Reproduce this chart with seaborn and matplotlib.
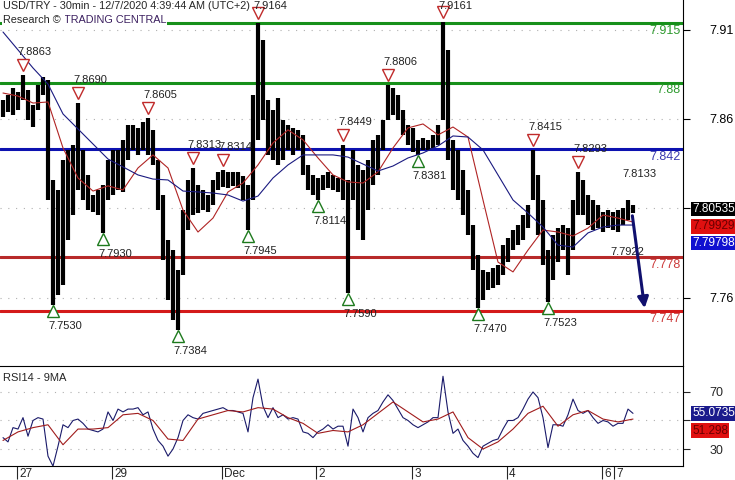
import numpy as np
import seaborn as sns
import matplotlib.pyplot as plt
from matplotlib.transforms import offset_copy

# USD/TRY 30min bars (one value per bar)
bar_high = [
    7.8706, 7.8734, 7.8773, 7.8751, 7.8846, 7.8762, 7.8678, 7.8790, 7.8835, 7.8818,
    7.8259, 7.8203, 7.8371, 7.8427, 7.8455, 7.8689, 7.8427, 7.8287, 7.8175, 7.8203,
    7.8231, 7.8371, 7.8427, 7.8427, 7.8483, 7.8566, 7.8566, 7.8550, 7.8583, 7.8606,
    7.8539, 7.8371, 7.8175, 7.7923, 7.7867, 7.7756, 7.8091, 7.8259, 7.8326, 7.8231,
    7.8203, 7.8175, 7.8259, 7.8304, 7.8315, 7.8304, 7.8304, 7.8304, 7.8281, 7.8231,
    7.8734, 7.9137, 7.9042, 7.8706, 7.8650, 7.8717, 7.8594, 7.8566, 7.8550, 7.8539,
    7.8511, 7.8343, 7.8287, 7.8270, 7.8287, 7.8304, 7.8287, 7.8270, 7.8455, 7.8259,
    7.8427, 7.8343, 7.8315, 7.8371, 7.8483, 7.8511, 7.8594, 7.8790, 7.8773, 7.8734,
    7.8650, 7.8566, 7.8550, 7.8483, 7.8494, 7.8483, 7.8511, 7.8566, 7.9142, 7.8986,
    7.8483, 7.8427, 7.8315, 7.8203, 7.8007, 7.7840, 7.7756, 7.7745, 7.7767, 7.7784,
    7.7895, 7.7935, 7.7979, 7.8007, 7.8063, 7.8119, 7.8427, 7.8287, 7.8147, 7.7867,
    7.7951, 7.7990, 7.8007, 7.7990, 7.8147, 7.8304, 7.8259, 7.8175, 7.8147, 7.8119,
    7.8080, 7.8091, 7.8080, 7.8091, 7.8102, 7.8147, 7.8119,
]
bar_low = [
    7.8611, 7.8639, 7.8622, 7.8650, 7.8706, 7.8594, 7.8555, 7.8650, 7.8734, 7.8147,
    7.7560, 7.7616, 7.7672, 7.7923, 7.8063, 7.8203, 7.8147, 7.8091, 7.8080, 7.8063,
    7.7963, 7.8147, 7.8175, 7.8203, 7.8192, 7.8371, 7.8427, 7.8399, 7.8427, 7.8399,
    7.8343, 7.8091, 7.7812, 7.7588, 7.7476, 7.7420, 7.7728, 7.7979, 7.8063, 7.8074,
    7.8091, 7.8080, 7.8119, 7.8203, 7.8220, 7.8214, 7.8226, 7.8214, 7.8147, 7.7979,
    7.8147, 7.8483, 7.8594, 7.8399, 7.8371, 7.8343, 7.8371, 7.8427, 7.8399, 7.8427,
    7.8287, 7.8203, 7.8175, 7.8147, 7.8203, 7.8214, 7.8203, 7.8192, 7.8147, 7.7627,
    7.8147, 7.7979, 7.7923, 7.8091, 7.8231, 7.8287, 7.8427, 7.8594, 7.8622, 7.8594,
    7.8511, 7.8455, 7.8416, 7.8399, 7.8427, 7.8427, 7.8438, 7.8455, 7.8594, 7.8371,
    7.8203, 7.8147, 7.8063, 7.7951, 7.7756, 7.7543, 7.7588, 7.7644, 7.7655, 7.7672,
    7.7728, 7.7800, 7.7867, 7.7895, 7.7923, 7.7990, 7.8147, 7.7951, 7.7784, 7.7577,
    7.7700, 7.7800, 7.7867, 7.7728, 7.7867, 7.8063, 7.8063, 7.8007, 7.7979, 7.7990,
    7.7968, 7.7990, 7.7979, 7.7968, 7.8007, 7.8035, 7.8074,
]

# moving averages, sampled every 3rd bar
ma_fast = [
    7.8745, 7.8728, 7.8689, 7.8695, 7.8438, 7.8270, 7.8197, 7.8226, 7.8203, 7.8326,
    7.8399, 7.8326, 7.8091, 7.7968, 7.8046, 7.8192, 7.8242, 7.8343, 7.8466, 7.8539,
    7.8483, 7.8382, 7.8287, 7.8248, 7.8242, 7.8304, 7.8438, 7.8550, 7.8572, 7.8511,
    7.8555, 7.8499, 7.8147, 7.7800, 7.7745, 7.7867, 7.7979, 7.7968, 7.7946, 7.7990,
    7.8063, 7.8046, 7.8024,
]
ma_slow = [
    7.9086, 7.8986, 7.8885, 7.8795, 7.8628, 7.8544, 7.8460, 7.8376, 7.8332, 7.8287,
    7.8264, 7.8259, 7.8197, 7.8192, 7.8186, 7.8175, 7.8141, 7.8169, 7.8270, 7.8343,
    7.8399, 7.8399, 7.8399, 7.8387, 7.8348, 7.8309, 7.8337, 7.8382, 7.8410, 7.8449,
    7.8505, 7.8499, 7.8427, 7.8287, 7.8147, 7.8074, 7.7996, 7.7895, 7.7884, 7.7963,
    7.7996, 7.8007, 7.8007,
]

rsi = [
    38, 35, 45, 44, 52, 39, 50, 52, 51, 25, 18, 32, 47, 45, 50, 51, 48, 44, 43, 42,
    44, 56, 50, 58, 56, 58, 58, 59, 54, 56, 44, 36, 32, 25, 30, 38, 50, 54, 52, 51,
    55, 56, 57, 58, 59, 57, 57, 56, 55, 42, 66, 79, 60, 52, 59, 52, 54, 51, 52, 51,
    42, 41, 38, 42, 44, 47, 44, 46, 46, 32, 58, 52, 42, 52, 55, 57, 63, 68, 64, 58,
    52, 50, 47, 45, 47, 49, 52, 52, 81, 56, 41, 44, 36, 32, 27, 24, 32, 34, 36, 37,
    44, 50, 50, 52, 58, 65, 70, 66, 52, 31, 47, 47, 46, 54, 65, 57, 55, 57, 52, 48,
    50, 49, 46, 48, 48, 58, 55,
]
rsi_ma = [
    36, 42, 45, 47, 33, 44, 44, 45, 54, 55, 50, 37, 36, 51, 54, 57, 56, 59, 58, 52,
    48, 41, 43, 42, 47, 55, 63, 56, 49, 51, 56, 38, 30, 35, 44, 55, 60, 46, 54, 57,
    51, 49, 51,
]

levels = [7.9135, 7.8803, 7.8432, 7.7826, 7.7527]
level_labels = ["7.915", "7.88", "7.842", "7.778", "7.747"]
level_colors = ["#17901a", "#17901a", "#0d12b0", "#b82a2a", "#d41a1a"]
label_colors = ["#2e9a2e", "#2e9a2e", "#3a3aae", "#cc3a3a", "#cc3a3a"]

peak_bars = [4, 15, 29, 38, 44, 51, 68, 77, 88, 106, 115]
peak_labels = ["7.8863", "7.8690", "7.8605", "7.8313", "7.8314", "7.9164",
               "7.8449", "7.8806", "7.9161", "7.8415", "7.8293"]
trough_bars = [10, 20, 35, 49, 63, 69, 83, 95, 109]
trough_labels = ["7.7530", "7.7930", "7.7384", "7.7945", "7.8114", "7.7590",
                 "7.8381", "7.7470", "7.7523"]

day_ticks = [2.8, 21.8, 43.8, 62.6, 81.8, 100.8, 119.8, 122.2]
day_labels = ["27", "29", "Dec", "2", "3", "4", "6", "7"]

last_price, last_fast, last_slow = "7.80535", "7.79929", "7.79798"
last_rsi, last_rsi_ma = "55.0735", "51.298"
forecast_hi, forecast_lo = "7.8133", "7.7922"
forecast_bar = 128.4

sns.set_style("white")
plt.rcParams["font.family"] = ["Liberation Sans", "DejaVu Sans"]

fig = plt.figure(figsize=(7.35, 4.8), dpi=100)
ax = fig.add_axes([0, 114 / 480, 683 / 735, 366 / 480])
ax2 = fig.add_axes([0, 14 / 480, 683 / 735, 100 / 480])

idx = np.arange(len(bar_high))
ma_idx = np.arange(0, len(bar_high), 3)
y_lo, y_hi = 7.7219, 7.9265
axes_h_pt = 366 * 0.72

# price panel
for lv in [7.76, 7.81, 7.86, 7.91]:
    ax.axhline(lv, color="#b0b0b0", lw=0.8, ls=(0, (1, 6)), zorder=0)
for lv, c in zip(levels, level_colors):
    ax.axhline(lv, color=c, lw=2.2, zorder=1)
ax.vlines(idx, bar_low, bar_high, color="black", lw=3.0, zorder=3)
sns.lineplot(x=ma_idx, y=ma_fast, ax=ax, color="#b02424", lw=0.8, zorder=4)
sns.lineplot(x=ma_idx, y=ma_slow, ax=ax, color="#1a1a80", lw=0.8, zorder=4)

# pivot markers sit just beyond the bar extremes
peak_tr = offset_copy(ax.transData, fig=fig, x=0, y=7.2, units="points")
trough_tr = offset_copy(ax.transData, fig=fig, x=0, y=-4.5, units="points")
ax.plot(peak_bars, [bar_high[b] for b in peak_bars], marker="v", ms=8, mfc="white",
        mec="#c02a2a", mew=1.0, ls="none", zorder=5, transform=peak_tr)
ax.plot(trough_bars, [bar_low[b] for b in trough_bars], marker="^", ms=8, mfc="white",
        mec="#1d7a1d", mew=1.0, ls="none", zorder=5, transform=trough_tr)
for b, t in zip(peak_bars, peak_labels):
    room = (y_hi - bar_high[b]) / (y_hi - y_lo) * axes_h_pt - 4.5
    ax.annotate(t, xy=(b, bar_high[b]), xytext=(8.6, min(16.5, room)), textcoords="offset points",
                ha="center", va="center", fontsize=8, color="#222222", zorder=6)
for b, t in zip(trough_bars, trough_labels):
    ax.annotate(t, xy=(b, bar_low[b]), xytext=(8.6, -15), textcoords="offset points",
                ha="center", va="center", fontsize=8, color="#222222", zorder=6)

for lv, t, c in zip(levels, level_labels, label_colors):
    ax.annotate(t, xy=(1, lv), xycoords=("axes fraction", "data"), xytext=(-2, -5.5),
                textcoords="offset points", ha="right", va="center", fontsize=9, color=c)

# forecast
last_mid = (bar_high[-1] + bar_low[-1]) / 2
ax.annotate("", xy=(forecast_bar, levels[4]), xytext=(idx[-1] - 0.2, bar_low[-1]),
            arrowprops=dict(arrowstyle="-|>", color="#10106e", lw=2.2, mutation_scale=16),
            zorder=6)
ax.annotate(forecast_hi, xy=(idx[-1], bar_high[-1]), xytext=(5, 22), textcoords="offset points",
            ha="center", va="center", fontsize=8, color="#222222")
ax.annotate(forecast_lo, xy=(idx[-1], levels[3]), xytext=(-4, 0), textcoords="offset points",
            ha="center", va="bottom", fontsize=8, color="#222222")

for t, off, fc, tc in [(last_price, 0, "black", "white"), (last_fast, -12.4, "#e01010", "#6a0000"),
                       (last_slow, -24.4, "#1010d0", "white")]:
    ax.annotate(t, xy=(1, last_mid), xycoords=("axes fraction", "data"), xytext=(6.5, off),
                textcoords="offset points", ha="left", va="center", fontsize=8.5, color=tc,
                bbox=dict(boxstyle="square,pad=0.12", fc=fc, ec="none"), zorder=10,
                annotation_clip=False)

ax.set_xlim(-0.6, 136)
ax.set_ylim(y_lo, y_hi)
ax.yaxis.tick_right()
ax.set_yticks([7.76, 7.81, 7.86, 7.91])
ax.set_yticklabels(["7.76", "", "7.86", "7.91"])
ax.tick_params(axis="y", direction="out", length=5, width=0.8, pad=14, labelsize=9,
               colors="black", right=True)
ax.set_xticks([])
for s in ["top", "left", "bottom"]:
    ax.spines[s].set_visible(False)
ax.spines["right"].set_color("black")
ax.spines["right"].set_linewidth(0.8)
ax.set_xlabel("")
ax.set_ylabel("")

# RSI panel
for lv in [30, 50, 70]:
    ax2.axhline(lv, color="#b0b0b0", lw=0.8, ls=(0, (1, 6)), zorder=0)
sns.lineplot(x=idx, y=rsi, ax=ax2, color="#1a1a6a", lw=0.8)
sns.lineplot(x=ma_idx, y=rsi_ma, ax=ax2, color="#a01c1c", lw=0.8)
ax2.set_xlim(-0.6, 136)
ax2.set_ylim(18.1, 88.2)
ax2.yaxis.tick_right()
ax2.set_yticks([30, 50, 70])
ax2.set_yticklabels(["30", "", "70"])
ax2.tick_params(axis="y", direction="out", length=5, width=0.8, pad=14, labelsize=9,
                right=True)
ax2.set_xticks(day_ticks)
ax2.set_xticklabels([])
ax2.tick_params(axis="x", direction="out", length=9, width=0.8, bottom=True)
for x, t in zip(day_ticks, day_labels):
    ax2.annotate(t, xy=(x, 0), xycoords=("data", "axes fraction"), xytext=(1.5, -1.5),
                 textcoords="offset points", ha="left", va="top", fontsize=8.5)
ax2.spines["left"].set_visible(False)
for s in ["top", "bottom", "right"]:
    ax2.spines[s].set_color("black")
    ax2.spines[s].set_linewidth(0.8)
ax2.set_xlabel("")
ax2.set_ylabel("")
ax2.text(0.004, 0.93, "RSI14 - 9MA", transform=ax2.transAxes, fontsize=8, va="top")
for t, off, fc, tc in [(last_rsi, 0, "#1a1a8c", "white"), (last_rsi_ma, -12.4, "#e01010", "#6a0000")]:
    ax2.annotate(t, xy=(1, rsi[-1]), xycoords=("axes fraction", "data"), xytext=(6.5, off),
                 textcoords="offset points", ha="left", va="center", fontsize=8.5, color=tc,
                 bbox=dict(boxstyle="square,pad=0.12", fc=fc, ec="none"), zorder=10,
                 annotation_clip=False)

# header
fig.text(0.004, 0.998, "USD/TRY - 30min - 12/7/2020 4:39:44 AM (UTC+2)", fontsize=7.8, va="top")
t1 = fig.text(0.004, 0.969, "Research © ", fontsize=7.8, va="top",
              bbox=dict(boxstyle="square,pad=0.1", fc="white", ec="none"))
ax.annotate("TRADING CENTRAL", xy=(1, 0), xycoords=t1, ha="left", va="bottom", fontsize=7.8,
            color="#3c2060", bbox=dict(boxstyle="square,pad=0.1", fc="white", ec="none"),
            annotation_clip=False, zorder=12)

fig.savefig("out.png", dpi=100)
